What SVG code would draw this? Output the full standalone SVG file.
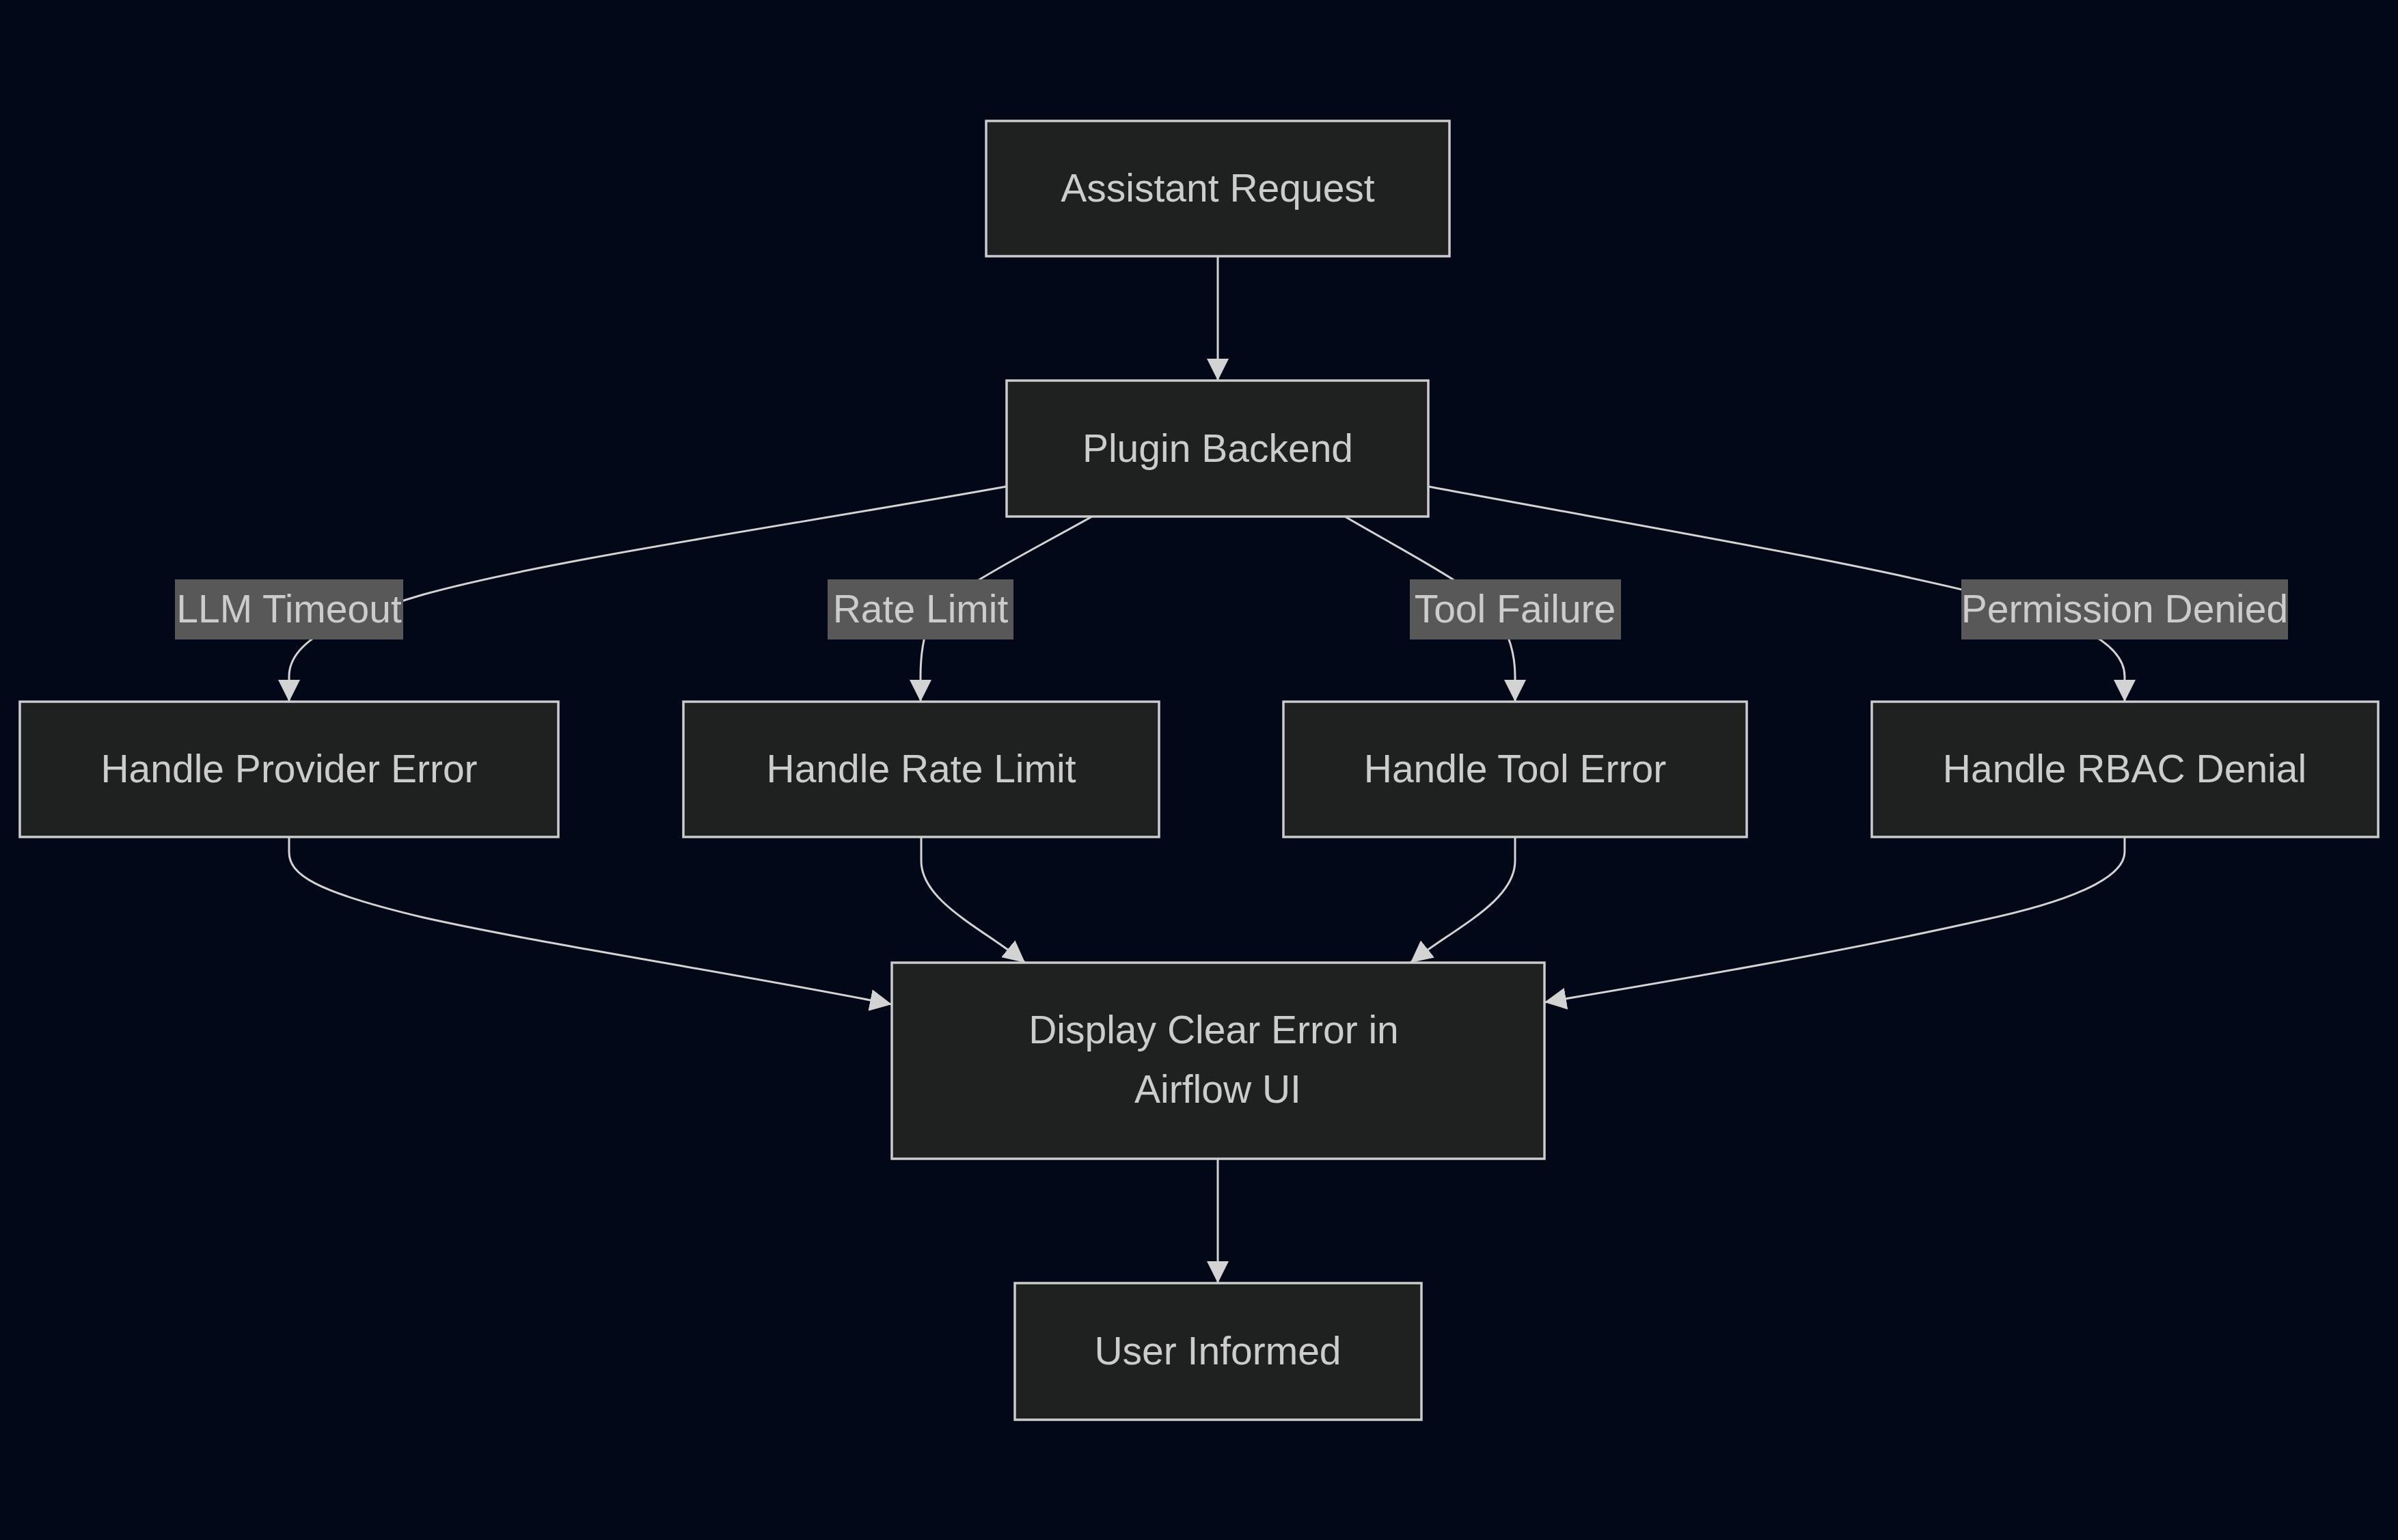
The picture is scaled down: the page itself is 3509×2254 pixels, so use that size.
<svg xmlns="http://www.w3.org/2000/svg" width="3509" height="2254" viewBox="0 0 3509 2254">
<defs>
<style>
.node rect{fill:#1f2020;stroke:#cccccc;stroke-width:3.5}
.txt{font-family:"Liberation Sans",Arial,sans-serif;font-size:57px;fill:#cccccc;text-anchor:middle}
.lbl rect{fill:#585858;stroke:none}
.edge{fill:none;stroke:#d3d3d3;stroke-width:3}
</style>
<marker id="arr" markerUnits="userSpaceOnUse" markerWidth="32" markerHeight="32" viewBox="0 0 30 30" refX="30" refY="15" orient="auto">
<path d="M0,0 L30,15 L0,30 z" fill="#d3d3d3"/>
</marker>
</defs>
<rect x="0" y="0" width="3509" height="2254" fill="#020817"/>
<g id="connectors">
<path class="edge" d="M1782,375 L1782,557" marker-end="url(#arr)"/>
<path class="edge" d="M1473,712 C1150,770 800,820 620,870 C520,900 423,930 423,990 L423,1027" marker-end="url(#arr)"/>
<path class="edge" d="M1598,756 C1480,822 1380,870 1360,910 C1350,935 1347,960 1347,990 L1347,1027" marker-end="url(#arr)"/>
<path class="edge" d="M1968,756 C2060,810 2160,860 2190,900 C2210,930 2217,960 2217,990 L2217,1027" marker-end="url(#arr)"/>
<path class="edge" d="M2090,712 C2400,770 2700,820 2900,870 C3000,900 3109,930 3109,990 L3109,1027" marker-end="url(#arr)"/>
<path class="edge" d="M423,1225 L423,1247 C423,1280 460,1305 620,1343 C800,1383 1050,1420 1305,1470" marker-end="url(#arr)"/>
<path class="edge" d="M1348,1225 L1348,1260 C1348,1320 1440,1360 1500,1409" marker-end="url(#arr)"/>
<path class="edge" d="M2217,1225 L2217,1260 C2217,1320 2125,1360 2064,1409" marker-end="url(#arr)"/>
<path class="edge" d="M3109,1225 L3109,1247 C3109,1275 3065,1312 2900,1347 C2700,1392 2480,1430 2260,1467" marker-end="url(#arr)"/>
<path class="edge" d="M1782,1696 L1782,1878" marker-end="url(#arr)"/>
</g>
<g id="edge-labels">
<g class="lbl" id="label-llm-timeout"><rect x="256" y="848" width="334" height="88"/><text class="txt" x="423" y="911">LLM Timeout</text></g>
<g class="lbl" id="label-rate-limit"><rect x="1211" y="848" width="272" height="88"/><text class="txt" x="1347" y="911">Rate Limit</text></g>
<g class="lbl" id="label-tool-failure"><rect x="2063" y="848" width="309" height="88"/><text class="txt" x="2217" y="911">Tool Failure</text></g>
<g class="lbl" id="label-permission-denied"><rect x="2870" y="848" width="478" height="88"/><text class="txt" x="3109" y="911">Permission Denied</text></g>
</g>
<g class="node" id="assistant-request"><rect x="1443" y="177" width="678" height="198"/><text class="txt" x="1782" y="295">Assistant Request</text></g>
<g class="node" id="plugin-backend"><rect x="1473" y="557" width="617" height="199"/><text class="txt" x="1782" y="676">Plugin Backend</text></g>
<g class="node" id="handle-provider-error"><rect x="29" y="1027" width="788" height="198"/><text class="txt" x="423" y="1145">Handle Provider Error</text></g>
<g class="node" id="handle-rate-limit"><rect x="1000" y="1027" width="696" height="198"/><text class="txt" x="1348" y="1145">Handle Rate Limit</text></g>
<g class="node" id="handle-tool-error"><rect x="1878" y="1027" width="678" height="198"/><text class="txt" x="2217" y="1145">Handle Tool Error</text></g>
<g class="node" id="handle-rbac-denial"><rect x="2739" y="1027" width="741" height="198"/><text class="txt" x="3109" y="1145">Handle RBAC Denial</text></g>
<g class="node" id="display-clear-error"><rect x="1305" y="1409" width="955" height="287"/><text class="txt" x="1776" y="1527">Display Clear Error in</text><text class="txt" x="1782" y="1614">Airflow UI</text></g>
<g class="node" id="user-informed"><rect x="1485" y="1878" width="595" height="200"/><text class="txt" x="1782" y="1997">User Informed</text></g>
</svg>
